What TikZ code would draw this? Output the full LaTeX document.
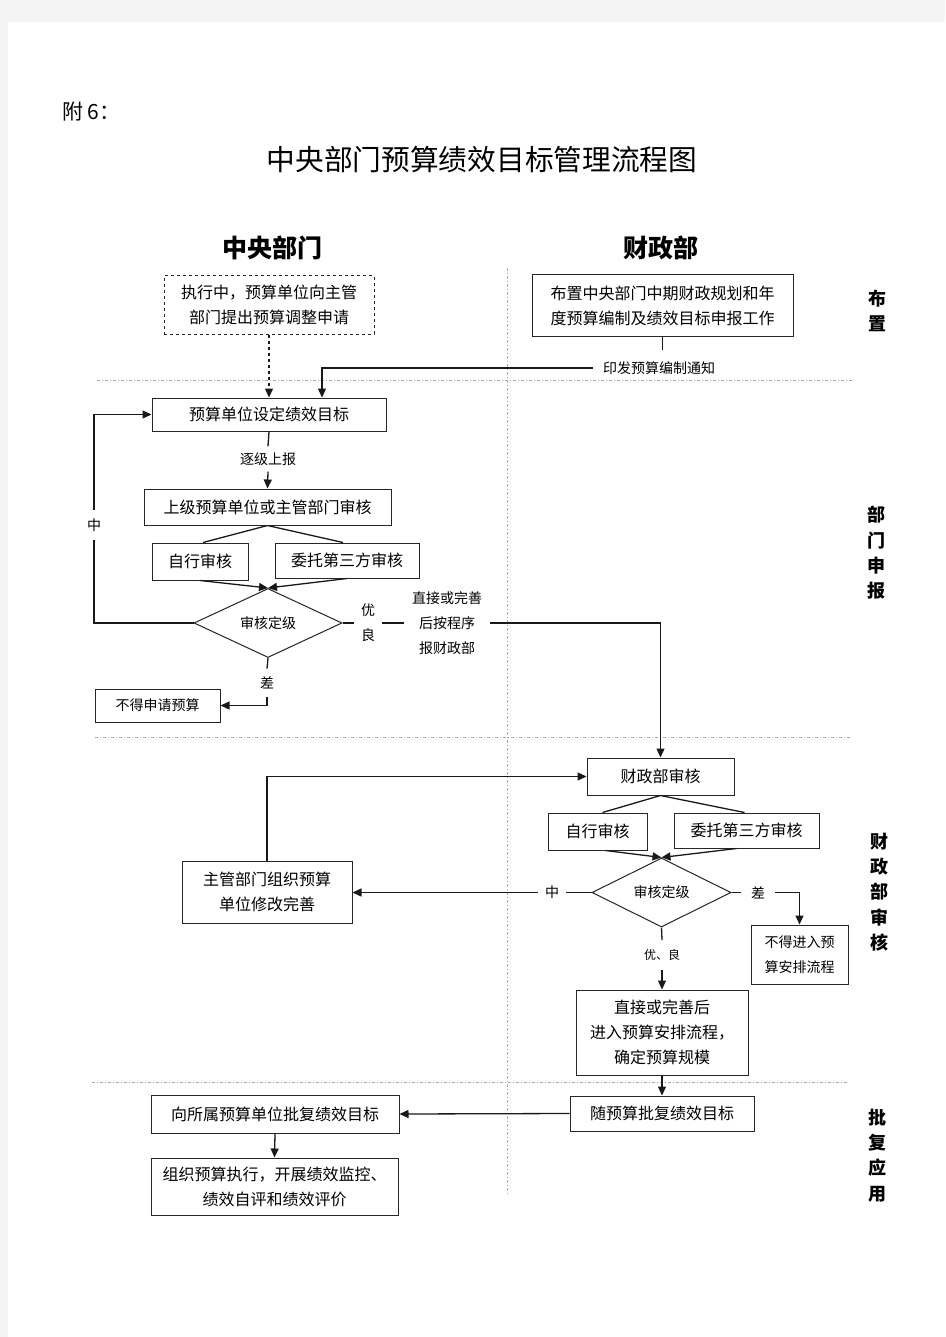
\documentclass[tikz,border=0pt]{standalone}
\usepackage{fontspec}
\setmainfont{Noto Sans CJK SC}
\usetikzlibrary{arrows.meta,shapes.geometric}
\definecolor{pagebg}{HTML}{F4F4F4}
\begin{document}
\begin{tikzpicture}[x=1pt,y=-1pt,
  bx/.style={draw=black!85, line width=1pt, inner sep=0pt, align=center, font=\fontsize{16}{25}\selectfont},
  sbx/.style={bx, font=\fontsize{14}{25}\selectfont},
  lbl/.style={inner sep=6pt, align=center, font=\fontsize{14}{25}\selectfont},
  con/.style={line width=1.3pt, draw=black!90},
  arr/.style={con, -{Triangle[length=9pt,width=8pt]}},
  dia/.style={diamond, draw=black!85, line width=1pt, inner sep=0pt, font=\fontsize{14}{17}\selectfont},
  sep/.style={draw=gray!70, line width=1pt, dash pattern=on 3pt off 2pt on 1pt off 2pt},
  side/.style={align=center, font=\fontsize{18}{25.3}\selectfont\bfseries}
]
\fill[pagebg] (0,0) rectangle (945,1337);
\fill[white] (8,22) rectangle (945,1337);
\useasboundingbox (0,0) rectangle (945,1337);

% headings
\node[font=\fontsize{21}{24}\selectfont, anchor=west, inner sep=0pt] (fu) at (62,112) {附 6：};
\node[font=\fontsize{28.7}{34}\selectfont] (title) at (482,160) {中央部门预算绩效目标管理流程图};
\node[font=\fontsize{25}{30}\selectfont\bfseries] (colA) at (272,248) {中央部门};
\node[font=\fontsize{25}{30}\selectfont\bfseries] (colB) at (661,248) {财政部};

% separators
\draw[sep] (507,268) -- (507,1195);
\draw[sep] (97,380) -- (852,380);
\draw[sep] (95,737) -- (850,737);
\draw[sep] (92,1082) -- (848,1082);

% side labels
\node[side] (s1) at (877,311) {布\\置};
\node[side] (s2) at (876,553) {部\\门\\申\\报};
\node[side] (s3) at (879,892) {财\\政\\部\\审\\核};
\node[side] (s4) at (877,1155.5) {批\\复\\应\\用};

% stage 1
\node[bx, dashed, minimum width=210pt, minimum height=58pt] (n1) at (269,305) {执行中，预算单位向主管\\部门提出预算调整申请};
\node[bx, minimum width=261pt, minimum height=61pt] (n2) at (662.5,305.5) {布置中央部门中期财政规划和年\\度预算编制及绩效目标申报工作};
\coordinate (c1) at (662.5,350);
\node[lbl, inner xsep=10pt] (lblA) at (659,368) {印发预算编制通知};

% stage 2
\node[bx, minimum width=234pt, minimum height=33pt] (n3) at (269,414.5) {预算单位设定绩效目标};
\node[lbl] (lblB) at (268,459) {逐级上报};
\node[bx, minimum width=247pt, minimum height=36pt] (n4) at (267.5,507) {上级预算单位或主管部门审核};
\node[bx, minimum width=96pt, minimum height=37pt] (n5) at (200,561.5) {自行审核};
\node[bx, minimum width=144pt, minimum height=35pt] (n6) at (347,560.5) {委托第三方审核};
\node[dia, minimum width=148pt, minimum height=55pt] (d1) at (268,623) {审核定级};
\node[lbl, inner ysep=8pt] (lblZ) at (94,525) {中};
\node[lbl, inner xsep=7pt] (lblY) at (368,623) {优\\良};
\node[lbl, inner xsep=8pt] (lblX) at (447,623) {直接或完善\\后按程序\\报财政部};
\node[lbl, inner ysep=8pt] (lblC) at (267,683) {差};
\node[sbx, minimum width=125pt, minimum height=33pt] (n9) at (157.5,705.5) {不得申请预算};

% stage 3
\node[bx, minimum width=147pt, minimum height=37pt] (n10) at (660.5,776.5) {财政部审核};
\node[bx, minimum width=99pt, minimum height=37pt] (n11) at (597.5,831.5) {自行审核};
\node[bx, minimum width=145pt, minimum height=35pt] (n12) at (746.5,830.5) {委托第三方审核};
\node[dia, minimum width=139pt, minimum height=59pt] (d2) at (661.5,892.5) {审核定级};
\node[lbl, inner xsep=7pt] (lblM) at (552,892.5) {中};
\node[bx, minimum width=170pt, minimum height=62pt] (n14) at (267,892) {主管部门组织预算\\单位修改完善};
\node[lbl, inner xsep=10pt] (lblN) at (758,892.5) {差};
\node[sbx, minimum width=97pt, minimum height=59pt] (n15) at (799.5,954.5) {不得进入预\\算安排流程};
\node[lbl, inner ysep=9pt, font=\fontsize{12}{14}\selectfont] (lblO) at (662,955) {优、良};
\node[bx, minimum width=172pt, minimum height=85pt] (n16) at (662,1032.5) {直接或完善后\\进入预算安排流程，\\确定预算规模};

% stage 4
\node[bx, minimum width=184pt, minimum height=35pt] (n17) at (662,1113.5) {随预算批复绩效目标};
\node[bx, minimum width=248pt, minimum height=38pt] (n18) at (275,1114) {向所属预算单位批复绩效目标};
\node[bx, minimum width=247pt, minimum height=57pt] (n19) at (274.5,1186.5) {组织预算执行，开展绩效监控、\\绩效自评和绩效评价};

% connectors stage 1
\draw[con] (n2.south) -- (c1);
\draw[arr] (lblA.west) -| ([xshift=53pt]n3.north);
\draw[arr, dashed] (n1.south) -- (n3.north);

% connectors stage 2
\draw[con] (n3.south) -- (lblB.north);
\draw[arr] (lblB.south) -- (n4.north);
\draw[con] (n4.south) -- ([xshift=3pt]n5.north);
\draw[con] (n4.south) -- ([xshift=-4pt]n6.north);
\draw[arr] (n5.south) -- (d1.north);
\draw[arr] (n6.south) -- (d1.north);
\draw[con] (d1.west) -| (lblZ.south);
\draw[arr] (lblZ.north) |- (n3.west);
\draw[con] (d1.east) -- (lblY.west);
\draw[con] (lblY.east) -- (lblX.west);
\draw[arr] (lblX.east) -| (n10.north);
\draw[con] (d1.south) -- (lblC.north);
\draw[arr] (lblC.south) |- (n9.east);

% connectors stage 3
\draw[con] (n10.south) -- ([xshift=5pt]n11.north);
\draw[con] (n10.south) -- ([xshift=-2pt]n12.north);
\draw[arr] ([xshift=8pt]n11.south) -- (d2.north);
\draw[arr] ([xshift=-10pt]n12.south) -- (d2.north);
\draw[con] (d2.west) -- (lblM.east);
\draw[arr] (lblM.west) -- (lblM.west -| n14.east);
\draw[arr] (n14.north) |- (n10.west);
\draw[con] (d2.east) -- (lblN.west);
\draw[arr] (lblN.east) -| (n15.north);
\draw[con] (d2.south) -- (lblO.north);
\draw[arr] (lblO.south) -- (n16.north);
\draw[arr] (n16.south) -- (n17.north);

% connectors stage 4
\draw[arr] (n17.west) -- (n18.east);
\draw[arr] (n18.south) -- (n19.north);
\end{tikzpicture}
\end{document}
